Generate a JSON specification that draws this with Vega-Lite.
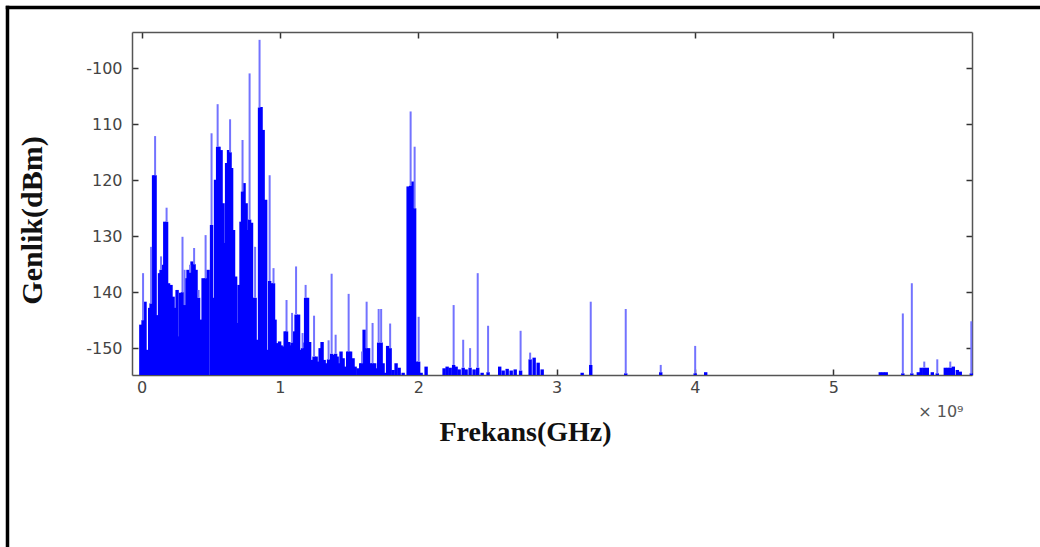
{
  "$schema": "https://vega.github.io/schema/vega-lite/v6.json",
  "width": 840,
  "height": 343,
  "autosize": {"type": "none"},
  "padding": {"left": 132, "top": 32, "right": 68, "bottom": 172},
  "background": "white",
  "config": {"view": {"stroke": null}, "axis": {"grid": false}},
  "data": {"values": [
    {"f": -0.005, "top": -145.8, "body": -145.8},
    {"f": 0.011, "top": -136.6, "body": -145},
    {"f": 0.025, "top": -141.7, "body": -141.7},
    {"f": 0.040, "top": -150.3, "body": -150.3},
    {"f": 0.059, "top": -142.8, "body": -142.8},
    {"f": 0.069, "top": -131.9, "body": -142},
    {"f": 0.087, "top": -119.1, "body": -119.1},
    {"f": 0.098, "top": -112.1, "body": -119.1},
    {"f": 0.112, "top": -144.1, "body": -144.1},
    {"f": 0.130, "top": -136.6, "body": -136.6},
    {"f": 0.141, "top": -133.6, "body": -136},
    {"f": 0.155, "top": -135.1, "body": -135.1},
    {"f": 0.168, "top": -127.4, "body": -127.4},
    {"f": 0.181, "top": -124.9, "body": -127.4},
    {"f": 0.195, "top": -138.4, "body": -138.4},
    {"f": 0.213, "top": -138.7, "body": -138.7},
    {"f": 0.228, "top": -140.8, "body": -140.8},
    {"f": 0.242, "top": -142.8, "body": -142.8},
    {"f": 0.257, "top": -139.6, "body": -139.6},
    {"f": 0.268, "top": -147.9, "body": -147.9},
    {"f": 0.283, "top": -140.1, "body": -140.1},
    {"f": 0.296, "top": -130.1, "body": -140},
    {"f": 0.311, "top": -136, "body": -142.3},
    {"f": 0.322, "top": -137.5, "body": -137.5},
    {"f": 0.336, "top": -136, "body": -136},
    {"f": 0.351, "top": -135.1, "body": -136.5},
    {"f": 0.365, "top": -134.5, "body": -134.5},
    {"f": 0.380, "top": -132.1, "body": -135},
    {"f": 0.394, "top": -136, "body": -136},
    {"f": 0.412, "top": -139.6, "body": -141},
    {"f": 0.430, "top": -144.9, "body": -144.9},
    {"f": 0.445, "top": -137.5, "body": -137.5},
    {"f": 0.463, "top": -129.8, "body": -137.5},
    {"f": 0.481, "top": -136, "body": -136},
    {"f": 0.506, "top": -111.6, "body": -128},
    {"f": 0.521, "top": -141, "body": -141},
    {"f": 0.535, "top": -119.9, "body": -119.9},
    {"f": 0.550, "top": -106.4, "body": -114},
    {"f": 0.560, "top": -114, "body": -114},
    {"f": 0.575, "top": -114.6, "body": -114.6},
    {"f": 0.589, "top": -124.1, "body": -124.1},
    {"f": 0.604, "top": -131.2, "body": -131.2},
    {"f": 0.615, "top": -116.9, "body": -116.9},
    {"f": 0.629, "top": -114.6, "body": -114.6},
    {"f": 0.640, "top": -109.1, "body": -115},
    {"f": 0.651, "top": -117.8, "body": -117.8},
    {"f": 0.665, "top": -128.9, "body": -128.9},
    {"f": 0.680, "top": -137.2, "body": -137.2},
    {"f": 0.691, "top": -145.5, "body": -145.5},
    {"f": 0.705, "top": -138.7, "body": -138.7},
    {"f": 0.719, "top": -127.4, "body": -127.4},
    {"f": 0.730, "top": -112.8, "body": -122},
    {"f": 0.741, "top": -120.5, "body": -120.5},
    {"f": 0.756, "top": -124.1, "body": -124.1},
    {"f": 0.766, "top": -128.9, "body": -128.9},
    {"f": 0.781, "top": -100.9, "body": -127},
    {"f": 0.795, "top": -127.6, "body": -127.6},
    {"f": 0.810, "top": -141, "body": -141},
    {"f": 0.821, "top": -131.9, "body": -141},
    {"f": 0.835, "top": -148.5, "body": -148.5},
    {"f": 0.853, "top": -94.9, "body": -107},
    {"f": 0.864, "top": -106.9, "body": -106.9},
    {"f": 0.879, "top": -111, "body": -111},
    {"f": 0.897, "top": -123.5, "body": -123.5},
    {"f": 0.907, "top": -150.3, "body": -150.3},
    {"f": 0.926, "top": -119.1, "body": -138},
    {"f": 0.940, "top": -138.4, "body": -138.4},
    {"f": 0.954, "top": -135.7, "body": -138.4},
    {"f": 0.965, "top": -144.9, "body": -144.9},
    {"f": 0.980, "top": -149.1, "body": -149.1},
    {"f": 0.998, "top": -148.8, "body": -148.8},
    {"f": 1.009, "top": -149.5, "body": -149.5},
    {"f": 1.023, "top": -149.7, "body": -149.7},
    {"f": 1.038, "top": -147, "body": -147},
    {"f": 1.048, "top": -141.4, "body": -147},
    {"f": 1.063, "top": -148.9, "body": -148.9},
    {"f": 1.074, "top": -149.5, "body": -149.5},
    {"f": 1.088, "top": -143.7, "body": -149},
    {"f": 1.103, "top": -147, "body": -147},
    {"f": 1.117, "top": -135.4, "body": -144},
    {"f": 1.135, "top": -144, "body": -144},
    {"f": 1.146, "top": -150.3, "body": -150.3},
    {"f": 1.164, "top": -147.3, "body": -150},
    {"f": 1.179, "top": -149, "body": -149},
    {"f": 1.186, "top": -138.7, "body": -141},
    {"f": 1.200, "top": -141, "body": -141},
    {"f": 1.215, "top": -148.9, "body": -148.9},
    {"f": 1.229, "top": -152.1, "body": -152.1},
    {"f": 1.247, "top": -144.2, "body": -151.5},
    {"f": 1.262, "top": -151.5, "body": -151.5},
    {"f": 1.276, "top": -152.4, "body": -152.4},
    {"f": 1.291, "top": -150, "body": -150},
    {"f": 1.305, "top": -148.9, "body": -148.9},
    {"f": 1.320, "top": -152.1, "body": -152.1},
    {"f": 1.334, "top": -152.7, "body": -152.7},
    {"f": 1.352, "top": -148.6, "body": -152},
    {"f": 1.363, "top": -153.3, "body": -153.3},
    {"f": 1.374, "top": -136.7, "body": -151},
    {"f": 1.388, "top": -151.2, "body": -151.2},
    {"f": 1.403, "top": -147.6, "body": -151},
    {"f": 1.414, "top": -151.5, "body": -151.5},
    {"f": 1.428, "top": -152.7, "body": -152.7},
    {"f": 1.442, "top": -150.6, "body": -150.6},
    {"f": 1.457, "top": -151.8, "body": -151.8},
    {"f": 1.471, "top": -153.3, "body": -153.3},
    {"f": 1.490, "top": -150.6, "body": -150.6},
    {"f": 1.497, "top": -140.3, "body": -150.6},
    {"f": 1.511, "top": -150.6, "body": -150.6},
    {"f": 1.529, "top": -151.8, "body": -151.8},
    {"f": 1.544, "top": -153.3, "body": -153.3},
    {"f": 1.565, "top": -153.6, "body": -153.6},
    {"f": 1.584, "top": -152.7, "body": -152.7},
    {"f": 1.594, "top": -150.6, "body": -152.7},
    {"f": 1.609, "top": -146.7, "body": -146.7},
    {"f": 1.627, "top": -141.7, "body": -150},
    {"f": 1.641, "top": -150, "body": -150},
    {"f": 1.656, "top": -152.7, "body": -152.7},
    {"f": 1.670, "top": -145.5, "body": -152.7},
    {"f": 1.685, "top": -152.7, "body": -152.7},
    {"f": 1.699, "top": -153.6, "body": -153.6},
    {"f": 1.714, "top": -143, "body": -149},
    {"f": 1.732, "top": -143, "body": -149},
    {"f": 1.746, "top": -152.7, "body": -152.7},
    {"f": 1.764, "top": -154.4, "body": -154.4},
    {"f": 1.779, "top": -149.6, "body": -149.6},
    {"f": 1.797, "top": -145.6, "body": -150},
    {"f": 1.818, "top": -153.9, "body": -153.9},
    {"f": 1.840, "top": -152.7, "body": -152.7},
    {"f": 1.862, "top": -153.5, "body": -153.5},
    {"f": 1.891, "top": -154.4, "body": -154.4},
    {"f": 1.927, "top": -121.1, "body": -121.1},
    {"f": 1.945, "top": -107.7, "body": -121},
    {"f": 1.960, "top": -120.2, "body": -120.2},
    {"f": 1.974, "top": -114, "body": -125},
    {"f": 1.988, "top": -152.4, "body": -152.4},
    {"f": 2.003, "top": -144.4, "body": -152.4},
    {"f": 2.021, "top": -154.4, "body": -154.4},
    {"f": 2.057, "top": -153.3, "body": -153.3},
    {"f": 2.187, "top": -153.6, "body": -153.6},
    {"f": 2.209, "top": -153.3, "body": -153.3},
    {"f": 2.231, "top": -153.5, "body": -153.5},
    {"f": 2.256, "top": -142.3, "body": -153},
    {"f": 2.274, "top": -153.3, "body": -153.3},
    {"f": 2.296, "top": -153.8, "body": -153.8},
    {"f": 2.325, "top": -148.5, "body": -153.5},
    {"f": 2.346, "top": -153.8, "body": -153.8},
    {"f": 2.375, "top": -150, "body": -153.5},
    {"f": 2.404, "top": -153.8, "body": -153.8},
    {"f": 2.430, "top": -136.6, "body": -153.5},
    {"f": 2.462, "top": -154.4, "body": -154.4},
    {"f": 2.505, "top": -146, "body": -154.3},
    {"f": 2.589, "top": -153.3, "body": -153.3},
    {"f": 2.614, "top": -154, "body": -154},
    {"f": 2.643, "top": -153.7, "body": -153.7},
    {"f": 2.672, "top": -154, "body": -154},
    {"f": 2.701, "top": -153.8, "body": -153.8},
    {"f": 2.740, "top": -146.9, "body": -154},
    {"f": 2.809, "top": -150.8, "body": -152},
    {"f": 2.838, "top": -151.7, "body": -151.7},
    {"f": 2.867, "top": -152.6, "body": -152.6},
    {"f": 2.896, "top": -153.8, "body": -153.8},
    {"f": 3.185, "top": -154.4, "body": -154.4},
    {"f": 3.247, "top": -141.7, "body": -153},
    {"f": 3.500, "top": -143, "body": -154.5},
    {"f": 3.753, "top": -153, "body": -154.3},
    {"f": 4.002, "top": -149.6, "body": -154.5},
    {"f": 4.078, "top": -154.3, "body": -154.3},
    {"f": 5.340, "top": -154.3, "body": -154.3},
    {"f": 5.362, "top": -154.3, "body": -154.3},
    {"f": 5.383, "top": -154.3, "body": -154.3},
    {"f": 5.503, "top": -143.8, "body": -154.5},
    {"f": 5.568, "top": -138.4, "body": -154.5},
    {"f": 5.615, "top": -154.3, "body": -154.3},
    {"f": 5.636, "top": -153.5, "body": -153.5},
    {"f": 5.658, "top": -152.4, "body": -153.5},
    {"f": 5.680, "top": -153.5, "body": -153.5},
    {"f": 5.716, "top": -154.3, "body": -154.3},
    {"f": 5.752, "top": -152, "body": -154.5},
    {"f": 5.810, "top": -153.5, "body": -153.5},
    {"f": 5.832, "top": -153.5, "body": -153.5},
    {"f": 5.846, "top": -152.4, "body": -153.5},
    {"f": 5.868, "top": -153.3, "body": -153.3},
    {"f": 5.897, "top": -153.9, "body": -153.9},
    {"f": 5.918, "top": -154.2, "body": -154.2},
    {"f": 5.998, "top": -145.2, "body": -154.5}
  ]},
  "layer": [
    {
      "mark": {"type": "rule", "color": "#0000ff", "strokeWidth": 3.4},
      "encoding": {
        "x": {
          "field": "f", "type": "quantitative",
          "scale": {"domain": [-0.069, 6.003], "nice": false, "zero": false},
          "axis": {
            "orient": "bottom", "values": [0, 1, 2, 3, 4, 5], "format": "d",
            "labelFont": "DejaVu Sans", "labelFontSize": 16, "labelColor": "#444",
            "labelFlush": false, "labelOverlap": false, "labelPadding": 10,
            "tickSize": -6, "tickColor": "#333", "tickWidth": 1.5,
            "domainColor": "#555", "domainWidth": 1.5, "grid": false,
            "title": "Frekans(GHz)", "titleFont": "Liberation Serif", "titleFontSize": 28,
            "titleFontWeight": "bold", "titleColor": "#111",
            "titleX": 393, "titleY": 57, "titleAlign": "center", "titleBaseline": "middle", "titleAngle": 0
          }
        },
        "y": {
          "field": "body", "type": "quantitative",
          "scale": {"domain": [-154.8, -93.5], "nice": false, "zero": false},
          "axis": {
            "orient": "left", "values": [-150, -140, -130, -120, -110, -100],
            "labelExpr": "datum.value == -100 ? '-100' : datum.value == -150 ? '-150' : format(-datum.value, 'd')",
            "labelFont": "DejaVu Sans", "labelFontSize": 16, "labelColor": "#444",
            "labelFlush": false, "labelOverlap": false, "labelPadding": 16,
            "tickSize": -6, "tickColor": "#333", "tickWidth": 1.5,
            "domainColor": "#555", "domainWidth": 1.5, "grid": false,
            "title": "Genlik(dBm)", "titleFont": "Liberation Serif", "titleFontSize": 30,
            "titleFontWeight": "bold", "titleColor": "#111",
            "titleX": -100, "titleY": 188, "titleAlign": "center", "titleBaseline": "middle", "titleAngle": 270
          }
        },
        "y2": {"datum": -154.8}
      }
    },
    {
      "mark": {"type": "rule", "color": "#7373ff", "strokeWidth": 2},
      "encoding": {
        "x": {
          "field": "f", "type": "quantitative",
          "scale": {"domain": [-0.069, 6.003], "nice": false, "zero": false},
          "axis": {
            "orient": "top", "values": [0, 1, 2, 3, 4, 5], "labels": false,
            "tickSize": -6, "tickColor": "#333", "tickWidth": 1.5,
            "domainColor": "#555", "domainWidth": 1.5, "grid": false, "title": null
          }
        },
        "y": {
          "field": "top", "type": "quantitative",
          "scale": {"domain": [-154.8, -93.5], "nice": false, "zero": false},
          "axis": {
            "orient": "right", "values": [-150, -140, -130, -120, -110, -100], "labels": false,
            "tickSize": -6, "tickColor": "#333", "tickWidth": 1.5,
            "domainColor": "#555", "domainWidth": 1.5, "grid": false,
            "title": "× 10⁹", "titleFont": "DejaVu Sans", "titleFontSize": 16,
            "titleFontWeight": "normal", "titleColor": "#555",
            "titleX": -9, "titleY": 379, "titleAlign": "right", "titleBaseline": "middle", "titleAngle": 0
          }
        },
        "y2": {"field": "body"}
      }
    },
    {
      "data": {"values": [{"edge": "top"}]},
      "mark": {"type": "rule", "color": "#000000", "strokeWidth": 3.5, "strokeCap": "square"},
      "encoding": {
        "x": {"datum": -0.969, "type": "quantitative", "axis": null},
        "x2": {"datum": 7.5},
        "y": {"datum": -89.12, "type": "quantitative", "axis": null}
      }
    },
    {
      "data": {"values": [{"edge": "left"}]},
      "mark": {"type": "rule", "color": "#000000", "strokeWidth": 3.5, "strokeCap": "square"},
      "encoding": {
        "x": {"datum": -0.969, "type": "quantitative", "axis": null},
        "y": {"datum": -89.12, "type": "quantitative", "axis": null},
        "y2": {"datum": -200}
      }
    }
  ],
  "resolve": {"axis": {"x": "independent", "y": "independent"}}
}
